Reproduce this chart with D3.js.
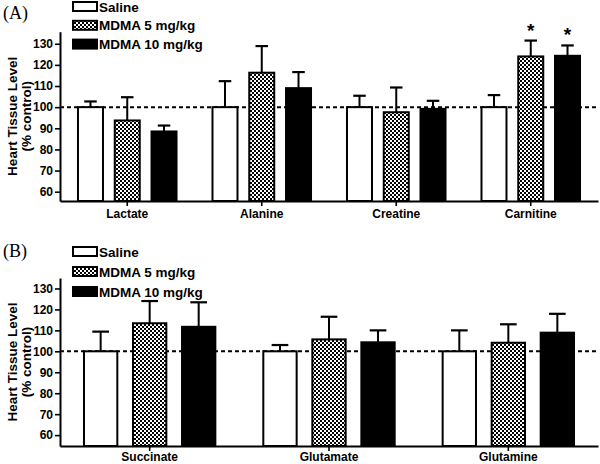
<!DOCTYPE html>
<html><head><meta charset="utf-8">
<script src="https://cdn.jsdelivr.net/npm/d3@7"></script>
<style>body{margin:0;background:#fff}svg{display:block}</style>
</head><body>
<svg id="c" width="600" height="464"></svg>
<script>
const seriesNames = ["Saline", "MDMA 5 mg/kg", "MDMA 10 mg/kg"];
const yTicks = [60, 70, 80, 90, 100, 110, 120, 130];

const catsA = ["Lactate", "Alanine", "Creatine", "Carnitine"];
const meanA_saline = [100, 100, 100, 100];
const errA_saline  = [102.7, 112.3, 105.4, 105.7];
const meanA_mdma5  = [93.7, 116.3, 97.6, 124.0];
const errA_mdma5   = [104.7, 128.9, 109.3, 131.5];
const meanA_mdma10 = [88.5, 109.0, 99.2, 124.3];
const errA_mdma10  = [91.3, 116.6, 103.0, 129.2];
const sigA_mdma5   = [false, false, false, true];
const sigA_mdma10  = [false, false, false, true];

const catsB = ["Succinate", "Glutamate", "Glutamine"];
const meanB_saline = [100, 100, 100];
const errB_saline  = [109.4, 103.0, 110.0];
const meanB_mdma5  = [113.4, 105.7, 104.1];
const errB_mdma5   = [124.0, 116.5, 112.9];
const meanB_mdma10 = [111.7, 104.3, 108.9];
const errB_mdma10  = [123.4, 110.0, 117.9];
const sigB_mdma5   = [false, false, false];
const sigB_mdma10  = [false, false, false];

const svg = d3.select("#c");
const FONT = "'Liberation Sans', Arial, sans-serif";

const defs = svg.append("defs");
const pat = defs.append("pattern").attr("id", "chk")
  .attr("patternUnits", "userSpaceOnUse").attr("width", 4).attr("height", 4);
pat.append("rect").attr("width", 4).attr("height", 4).attr("fill", "#fff");
pat.append("rect").attr("x", 0).attr("y", 0).attr("width", 2).attr("height", 2).attr("fill", "#000");
pat.append("rect").attr("x", 2).attr("y", 2).attr("width", 2).attr("height", 2).attr("fill", "#000");
const fills = ["#fff", "url(#chk)", "#000"];

function panel(o) {
  const g = svg.append("g");
  const y = d3.scaleLinear().domain(o.yDomain).range(o.yRange);
  const x0 = d3.scaleBand().domain(o.cats).range([60, 598]).paddingInner(0.18).paddingOuter(0.09);
  const x1 = d3.scaleBand().domain(seriesNames).range([0, x0.bandwidth()]).paddingInner(0.32).paddingOuter(0.16);
  const series = seriesNames.map((s, i) => ({
    name: s, i,
    vals: o.cats.map((c, j) => ({ c, m: o.means[i][j], e: o.errs[i][j], sig: o.sigs[i][j] }))
  }));

  g.append("line").attr("x1", 60).attr("x2", 598).attr("y1", y(100)).attr("y2", y(100))
    .attr("stroke", "#000").attr("stroke-width", 2).attr("stroke-dasharray", "4,3");

  series.forEach(s => {
    const sg = g.append("g");
    s.vals.forEach(v => {
      const bx = x0(v.c) + x1(s.name), bw = x1.bandwidth();
      const cx = bx + bw / 2, cap = bw * 0.5;
      sg.append("line").attr("x1", cx).attr("x2", cx).attr("y1", y(v.m)).attr("y2", y(v.e))
        .attr("stroke", "#000").attr("stroke-width", 2);
      sg.append("line").attr("x1", cx - cap / 2).attr("x2", cx + cap / 2).attr("y1", y(v.e)).attr("y2", y(v.e))
        .attr("stroke", "#000").attr("stroke-width", 2.2);
      sg.append("rect").attr("x", bx).attr("width", bw)
        .attr("y", y(v.m)).attr("height", y(o.yDomain[0]) - y(v.m))
        .attr("fill", fills[s.i]).attr("stroke", "#000").attr("stroke-width", 2);
      if (v.sig) {
        sg.append("text").attr("x", cx).attr("y", y(v.e) - 4)
          .attr("text-anchor", "middle").attr("font-family", FONT).attr("font-size", 19)
          .attr("font-weight", "bold").text("*");
      }
    });
  });

  const ya = g.append("g").attr("transform", "translate(60,0)")
    .call(d3.axisLeft(y).tickValues(yTicks).tickSize(5).tickPadding(2).tickSizeOuter(0));
  ya.select(".domain").attr("stroke-width", 2);
  ya.selectAll(".tick line").attr("stroke-width", 1.6);
  ya.selectAll(".tick text").attr("font-family", FONT).attr("font-size", 12).attr("font-weight", "bold").attr("fill", "#000");

  const xa = g.append("g").attr("transform", `translate(0,${y(o.yDomain[0])})`)
    .call(d3.axisBottom(x0).tickSize(5).tickPadding(o.xPad).tickSizeOuter(0));
  xa.select(".domain").attr("stroke-width", 2);
  xa.selectAll(".tick line").attr("stroke-width", 1.6);
  xa.selectAll(".tick text").attr("font-family", FONT).attr("font-size", 12).attr("font-weight", "bold").attr("fill", "#000");

  const ymid = (o.yRange[0] + o.yRange[1]) / 2;
  g.append("text").attr("transform", `translate(17,${ymid}) rotate(-90)`).attr("text-anchor", "middle")
    .attr("font-family", FONT).attr("font-size", 13.5).attr("font-weight", "bold").text("Heart Tissue Level");
  g.append("text").attr("transform", `translate(30.5,${ymid}) rotate(-90)`).attr("text-anchor", "middle")
    .attr("font-family", FONT).attr("font-size", 13.5).attr("font-weight", "bold").text("(% control)");

  g.append("text").attr("x", 3).attr("y", o.letterY).attr("font-family", "'Liberation Serif', 'Times New Roman', serif")
    .attr("font-size", 18).text(o.letter);

  seriesNames.forEach((s, i) => {
    const ly = o.legY + i * o.legStep;
    g.append("rect").attr("x", 73).attr("y", ly).attr("width", 24).attr("height", 9)
      .attr("fill", fills[i]).attr("stroke", "#000").attr("stroke-width", 2);
    g.append("text").attr("x", 99).attr("y", ly + 9.5).attr("font-family", FONT)
      .attr("font-size", 13.5).attr("font-weight", "bold").text(s);
  });
}

panel({
  cats: catsA,
  means: [meanA_saline, meanA_mdma5, meanA_mdma10],
  errs: [errA_saline, errA_mdma5, errA_mdma10],
  sigs: [sigA_mdma5.map(() => false), sigA_mdma5, sigA_mdma10],
  yDomain: [55.6, 135.7], yRange: [201, 31.7], xPad: 3,
  letter: "(A)", letterY: 19, legY: 2, legStep: 18.8
});
panel({
  cats: catsB,
  means: [meanB_saline, meanB_mdma5, meanB_mdma10],
  errs: [errB_saline, errB_mdma5, errB_mdma10],
  sigs: [sigB_mdma5.map(() => false), sigB_mdma5, sigB_mdma10],
  yDomain: [54.8, 135], yRange: [446, 278], xPad: 1,
  letter: "(B)", letterY: 257, legY: 247, legStep: 20
});
</script>
</body></html>
